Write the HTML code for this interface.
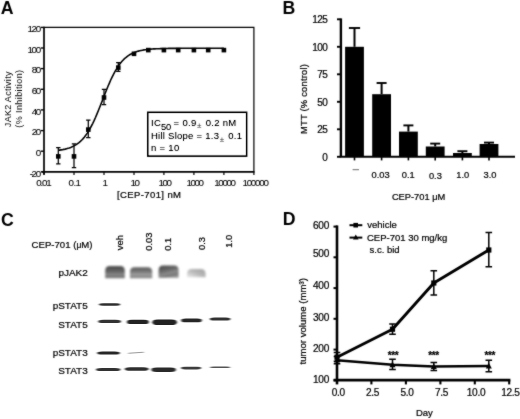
<!DOCTYPE html>
<html><head><meta charset="utf-8"><title>Figure</title>
<style>
html,body{margin:0;padding:0;background:#fff;}
body{width:520px;height:419px;overflow:hidden;}
svg{display:block;font-family:"Liberation Sans",sans-serif;}
text{fill:#111;stroke:#000;stroke-width:0.22px;}
.ns{stroke:none;}
.pl{font-weight:bold;font-size:17.7px;fill:#000;stroke:none;}
.at{font-size:9.6px;letter-spacing:-0.95px;fill:#000;}
.at2{font-size:9.8px;fill:#000;stroke-width:0.1px;}
.bt{font-size:10px;letter-spacing:-0.5px;fill:#000;}
.dt{font-size:10.1px;letter-spacing:-0.3px;fill:#000;}
</style></head><body>
<svg width="520" height="419" viewBox="0 0 520 419">
<defs>
<filter id="b1" x="-20%" y="-50%" width="140%" height="200%"><feGaussianBlur stdDeviation="1.1"/></filter>
<filter id="b2" x="-20%" y="-80%" width="140%" height="260%"><feGaussianBlur stdDeviation="0.8"/></filter>
<filter id="b3" x="-20%" y="-50%" width="140%" height="200%"><feGaussianBlur stdDeviation="1.6"/></filter>
<filter id="b4" x="-20%" y="-100%" width="140%" height="300%"><feGaussianBlur stdDeviation="0.85 0.75"/></filter>
<filter id="soft" color-interpolation-filters="sRGB" x="0" y="0" width="520" height="419" filterUnits="userSpaceOnUse"><feConvolveMatrix order="3" kernelMatrix="1 2 1 2 22 2 1 2 1" divisor="34" edgeMode="duplicate" preserveAlpha="false" result="bl"/><feComponentTransfer in="bl"><feFuncR type="linear" slope="1.25" intercept="-0.25"/><feFuncG type="linear" slope="1.25" intercept="-0.25"/><feFuncB type="linear" slope="1.25" intercept="-0.25"/></feComponentTransfer></filter>
</defs>
<rect width="520" height="419" fill="#fff"/>
<g filter="url(#soft)">

<text class="pl" x="0.8" y="14.0">A</text>
<text class="pl" x="282.5" y="13.7">B</text>
<text class="pl" x="1.1" y="226.0">C</text>
<text class="pl" x="282.8" y="224.8">D</text>
<path d="M44.0 27.3H253.9V171.8" fill="none" stroke="#000" stroke-width="1.2"/>
<path d="M44.0 26.7V174.8M41.6 171.8H254.5" fill="none" stroke="#000" stroke-width="1.7"/>
<path d="M40.8 171.8H44.0" stroke="#000" stroke-width="1.4"/>
<text class="at2" x="41.1" y="176.5" text-anchor="end" textLength="11.4" lengthAdjust="spacing">-20</text>
<path d="M40.8 151.2H44.0" stroke="#000" stroke-width="1.4"/>
<text class="at2" x="41.1" y="155.9" text-anchor="end">0</text>
<path d="M40.8 130.6H44.0" stroke="#000" stroke-width="1.4"/>
<text class="at2" x="41.1" y="135.3" text-anchor="end" textLength="9.3" lengthAdjust="spacing">20</text>
<path d="M40.8 109.9H44.0" stroke="#000" stroke-width="1.4"/>
<text class="at2" x="41.1" y="114.6" text-anchor="end" textLength="9.3" lengthAdjust="spacing">40</text>
<path d="M40.8 89.3H44.0" stroke="#000" stroke-width="1.4"/>
<text class="at2" x="41.1" y="94.0" text-anchor="end" textLength="9.3" lengthAdjust="spacing">60</text>
<path d="M40.8 68.6H44.0" stroke="#000" stroke-width="1.4"/>
<text class="at2" x="41.1" y="73.3" text-anchor="end" textLength="9.3" lengthAdjust="spacing">80</text>
<path d="M40.8 48.0H44.0" stroke="#000" stroke-width="1.4"/>
<text class="at2" x="41.1" y="52.7" text-anchor="end" textLength="13.5" lengthAdjust="spacing">100</text>
<path d="M40.8 27.4H44.0" stroke="#000" stroke-width="1.4"/>
<text class="at2" x="41.1" y="32.1" text-anchor="end" textLength="13.5" lengthAdjust="spacing">120</text>
<path d="M44.0 171.8V175.0" stroke="#000" stroke-width="1.2"/>
<text class="at2" x="36.2" y="185.8" textLength="15.5" lengthAdjust="spacing">0.01</text>
<path d="M74.0 171.8V175.0" stroke="#000" stroke-width="1.2"/>
<text class="at2" x="68.5" y="185.8" textLength="12.5" lengthAdjust="spacing">0.1</text>
<path d="M104.0 171.8V175.0" stroke="#000" stroke-width="1.2"/>
<text class="at2" x="102.5" y="185.8">1</text>
<path d="M134.0 171.8V175.0" stroke="#000" stroke-width="1.2"/>
<text class="at2" x="130.4" y="185.8" textLength="9.6" lengthAdjust="spacing">10</text>
<path d="M163.9 171.8V175.0" stroke="#000" stroke-width="1.2"/>
<text class="at2" x="158.4" y="185.8" textLength="13.6" lengthAdjust="spacing">100</text>
<path d="M193.9 171.8V175.0" stroke="#000" stroke-width="1.2"/>
<text class="at2" x="186.6" y="185.8" textLength="17.4" lengthAdjust="spacing">1000</text>
<path d="M223.9 171.8V175.0" stroke="#000" stroke-width="1.2"/>
<text class="at2" x="214.3" y="185.8" textLength="21.7" lengthAdjust="spacing">10000</text>
<path d="M253.9 171.8V175.0" stroke="#000" stroke-width="1.2"/>
<text class="at2" x="242.4" y="185.8" textLength="26.6" lengthAdjust="spacing">100000</text>
<text font-size="9.5" letter-spacing="0.4" x="149.2" y="198.0" text-anchor="middle" fill="#111">[CEP-701] nM</text>
<text class="ns" font-size="9" letter-spacing="0.3" fill="#2a2a2a" text-anchor="middle" transform="translate(10.6 99.2) rotate(-90)">JAK2 Activity</text>
<text class="ns" font-size="9" letter-spacing="0.4" fill="#2a2a2a" text-anchor="middle" transform="translate(21.5 98.6) rotate(-90)">(% Inhibition)</text>
<path d="M58.3 150.3 L59.7 150.1 L61.1 149.9 L62.4 149.7 L63.8 149.4 L65.2 149.1 L66.6 148.7 L68.0 148.3 L69.3 147.9 L70.7 147.4 L72.1 146.8 L73.5 146.1 L74.9 145.4 L76.2 144.6 L77.6 143.6 L79.0 142.6 L80.4 141.4 L81.8 140.0 L83.1 138.6 L84.5 136.9 L85.9 135.1 L87.3 133.1 L88.7 130.9 L90.0 128.6 L91.4 126.0 L92.8 123.3 L94.2 120.4 L95.6 117.3 L96.9 114.1 L98.3 110.7 L99.7 107.3 L101.1 103.8 L102.5 100.2 L103.8 96.7 L105.2 93.2 L106.6 89.7 L108.0 86.3 L109.4 83.1 L110.7 80.0 L112.1 77.1 L113.5 74.3 L114.9 71.7 L116.3 69.3 L117.6 67.1 L119.0 65.1 L120.4 63.2 L121.8 61.5 L123.2 60.0 L124.5 58.7 L125.9 57.5 L127.3 56.4 L128.7 55.4 L130.1 54.5 L131.5 53.8 L132.8 53.1 L134.2 52.5 L135.6 52.0 L137.0 51.5 L138.4 51.1 L139.7 50.8 L141.1 50.5 L142.5 50.2 L143.9 49.9 L145.3 49.7 L146.6 49.6 L148.0 49.4 L149.4 49.3 L150.8 49.1 L152.2 49.0 L153.5 48.9 L154.9 48.9 L156.3 48.8 L157.7 48.7 L159.1 48.7 L160.4 48.6 L161.8 48.6 L163.2 48.5 L164.6 48.5 L166.0 48.5 L167.3 48.5 L168.7 48.4 L170.1 48.4 L171.5 48.4 L172.9 48.4 L174.2 48.4 L175.6 48.4 L177.0 48.4 L178.4 48.4 L179.8 48.3 L181.1 48.3 L182.5 48.3 L183.9 48.3 L185.3 48.3 L186.7 48.3 L188.0 48.3 L189.4 48.3 L190.8 48.3 L192.2 48.3 L193.6 48.3 L194.9 48.3 L196.3 48.3 L197.7 48.3 L199.1 48.3 L200.5 48.3 L201.8 48.3 L203.2 48.3 L204.6 48.3 L206.0 48.3 L207.4 48.3 L208.7 48.3 L210.1 48.3 L211.5 48.3 L212.9 48.3 L214.3 48.3 L215.6 48.3 L217.0 48.3 L218.4 48.3 L219.8 48.3 L221.2 48.3 L222.5 48.3 L223.9 48.3" fill="none" stroke="#000" stroke-width="1.6"/>
<path d="M58.3 147.5V163.8M56.1 147.5h4.4M56.1 163.8h4.4" stroke="#000" stroke-width="1.25" fill="none"/>
<rect x="56.0" y="154.1" width="4.6" height="4.6" fill="#000"/>
<path d="M74.0 143.8V167.5M71.8 143.8h4.4M71.8 167.5h4.4" stroke="#000" stroke-width="1.25" fill="none"/>
<rect x="71.7" y="154.1" width="4.6" height="4.6" fill="#000"/>
<path d="M88.3 120V137.5M86.1 120h4.4M86.1 137.5h4.4" stroke="#000" stroke-width="1.25" fill="none"/>
<rect x="86.0" y="127.3" width="4.6" height="4.6" fill="#000"/>
<path d="M104.0 89.3V104.5M101.8 89.3h4.4M101.8 104.5h4.4" stroke="#000" stroke-width="1.25" fill="none"/>
<rect x="101.7" y="95.2" width="4.6" height="4.6" fill="#000"/>
<path d="M118.3 62.5V71.3M116.1 62.5h4.4M116.1 71.3h4.4" stroke="#000" stroke-width="1.25" fill="none"/>
<rect x="116.0" y="65.3" width="4.6" height="4.6" fill="#000"/>
<rect x="131.7" y="51.5" width="4.6" height="4.6" fill="#000"/>
<rect x="146.0" y="47.8" width="4.6" height="4.6" fill="#000"/>
<rect x="161.6" y="47.8" width="4.6" height="4.6" fill="#000"/>
<rect x="175.9" y="47.8" width="4.6" height="4.6" fill="#000"/>
<rect x="191.6" y="47.8" width="4.6" height="4.6" fill="#000"/>
<rect x="205.9" y="47.8" width="4.6" height="4.6" fill="#000"/>
<rect x="221.6" y="47.8" width="4.6" height="4.6" fill="#000"/>
<rect x="147.7" y="112.2" width="99" height="44" fill="#fff" stroke="#000" stroke-width="1.4"/>
<text class="ns" font-size="9.5" letter-spacing="0.3" x="151" y="125.6" fill="#111">IC<tspan dy="4.6" font-size="9.3" letter-spacing="-0.4">50</tspan><tspan dy="-4.6"> = 0.9</tspan><tspan fill="#555" dx="0.6" dy="2.2" font-size="8">±</tspan><tspan dy="-2.2" dx="1"> 0.2 nM</tspan></text>
<text class="ns" font-size="9.5" letter-spacing="0.25" x="151" y="139.4" fill="#111">Hill Slope = 1.3<tspan fill="#555" dx="0.6" dy="2.2" font-size="8">±</tspan><tspan dy="-2.2" dx="1"> 0.1</tspan></text>
<text class="ns" font-size="9.5" letter-spacing="0.3" x="151" y="151" fill="#111">n = 10</text>
<path d="M340.90000000000003 18.400000000000013V156.8" fill="none" stroke="#000" stroke-width="2.4"/><path d="M339.70000000000005 156.8H515" fill="none" stroke="#000" stroke-width="2"/>
<path d="M337.0 156.8H340.6" stroke="#000" stroke-width="1.9"/>
<text class="bt" x="327.40000000000003" y="160.6" text-anchor="end">0</text>
<path d="M337.0 129.3H340.6" stroke="#000" stroke-width="1.9"/>
<text class="bt" x="327.40000000000003" y="133.1" text-anchor="end">25</text>
<path d="M337.0 101.8H340.6" stroke="#000" stroke-width="1.9"/>
<text class="bt" x="327.40000000000003" y="105.6" text-anchor="end">50</text>
<path d="M337.0 74.3H340.6" stroke="#000" stroke-width="1.9"/>
<text class="bt" x="327.40000000000003" y="78.1" text-anchor="end">75</text>
<path d="M337.0 46.8H340.6" stroke="#000" stroke-width="1.9"/>
<text class="bt" x="327.40000000000003" y="50.6" text-anchor="end">100</text>
<path d="M337.0 19.3H340.6" stroke="#000" stroke-width="1.9"/>
<text class="bt" x="327.40000000000003" y="23.1" text-anchor="end">125</text>
<rect x="345.1" y="46.8" width="18.8" height="110.0" fill="#000"/>
<path d="M354.5 46.8V28.0" stroke="#000" stroke-width="2" fill="none"/><path d="M348.9 28.0h11.2" stroke="#000" stroke-width="1.9" fill="none"/>
<path d="M354.5 156.8v3.6" stroke="#000" stroke-width="1.6"/>
<rect x="372.2" y="94.2" width="18.8" height="62.6" fill="#000"/>
<path d="M381.6 94.2V83.0" stroke="#000" stroke-width="2" fill="none"/><path d="M376.6 83.0h10.0" stroke="#000" stroke-width="1.9" fill="none"/>
<path d="M381.6 156.8v3.6" stroke="#000" stroke-width="1.6"/>
<rect x="399.0" y="131.6" width="18.8" height="25.2" fill="#000"/>
<path d="M408.4 131.6V125.4" stroke="#000" stroke-width="2" fill="none"/><path d="M403.4 125.4h10.0" stroke="#000" stroke-width="1.9" fill="none"/>
<path d="M408.4 156.8v3.6" stroke="#000" stroke-width="1.6"/>
<rect x="425.8" y="146.5" width="18.8" height="10.3" fill="#000"/>
<path d="M435.2 146.5V143.6" stroke="#000" stroke-width="2" fill="none"/><path d="M430.2 143.6h10.0" stroke="#000" stroke-width="1.9" fill="none"/>
<path d="M435.2 156.8v3.6" stroke="#000" stroke-width="1.6"/>
<rect x="453.0" y="153.0" width="18.8" height="3.8" fill="#000"/>
<path d="M462.4 153.0V151.2" stroke="#000" stroke-width="2" fill="none"/><path d="M457.4 151.2h10.0" stroke="#000" stroke-width="1.9" fill="none"/>
<path d="M462.4 156.8v3.6" stroke="#000" stroke-width="1.6"/>
<rect x="479.6" y="144.0" width="18.8" height="12.8" fill="#000"/>
<path d="M489.0 144.0V142.6" stroke="#000" stroke-width="2" fill="none"/><path d="M484.0 142.6h10.0" stroke="#000" stroke-width="1.9" fill="none"/>
<path d="M489.0 156.8v3.6" stroke="#000" stroke-width="1.6"/>
<path d="M352.6 169.7h6.4" stroke="#8a8a8a" stroke-width="1.0"/>
<text font-size="9.3" fill="#000" x="380.6" y="177.9" text-anchor="middle">0.03</text>
<text font-size="9.3" fill="#000" x="408.2" y="177.9" text-anchor="middle">0.1</text>
<text font-size="9.3" fill="#000" x="435.4" y="179.1" text-anchor="middle">0.3</text>
<text font-size="9.3" fill="#000" x="462.8" y="177.9" text-anchor="middle">1.0</text>
<text font-size="9.3" fill="#000" x="490.0" y="177.9" text-anchor="middle">3.0</text>
<text font-size="9.3" x="418.6" y="199.8" text-anchor="middle" fill="#000">CEP-701 μM</text>
<text font-size="9.3" letter-spacing="0.25" fill="#111" text-anchor="middle" transform="translate(307.1 98.9) rotate(-90)">MTT (% control)</text>
<text font-size="9.6" x="31.6" y="248.4" fill="#000" stroke="#000" stroke-width="0.18">CEP-701 (<tspan font-size="8.6">μ</tspan>M)</text>
<text font-size="9.4" fill="#111" transform="translate(123.4 250.2) rotate(-90)">veh</text>
<text font-size="9.4" fill="#111" transform="translate(151.9 250.8) rotate(-90)">0.03</text>
<text font-size="9.4" fill="#111" transform="translate(171.2 250.8) rotate(-90)">0.1</text>
<text font-size="9.4" fill="#111" transform="translate(205.1 250.0) rotate(-90)">0.3</text>
<text font-size="9.4" fill="#111" transform="translate(231.9 247.8) rotate(-90)">1.0</text>
<text font-size="9.95" x="87.7" y="275.9" text-anchor="end" fill="#000" stroke="#000" stroke-width="0.18">pJAK2</text>
<text font-size="9.95" x="87.7" y="308.6" text-anchor="end" fill="#000" stroke="#000" stroke-width="0.18">pSTAT5</text>
<text font-size="9.95" x="87.7" y="328.2" text-anchor="end" fill="#000" stroke="#000" stroke-width="0.18">STAT5</text>
<text font-size="9.95" x="87.7" y="355.8" text-anchor="end" fill="#000" stroke="#000" stroke-width="0.18">pSTAT3</text>
<text font-size="9.95" x="87.7" y="374.4" text-anchor="end" fill="#000" stroke="#000" stroke-width="0.18">STAT3</text>
<path d="M337.0 225.4V384.4" fill="none" stroke="#000" stroke-width="2.6"/><path d="M333.6 380.2H510.4" fill="none" stroke="#000" stroke-width="2.7"/>
<path d="M333.5 380.3H337.0" stroke="#000" stroke-width="2"/>
<text class="dt" x="329.0" y="383.2" text-anchor="end">100</text>
<path d="M333.5 349.6H337.0" stroke="#000" stroke-width="2"/>
<text class="dt" x="329.0" y="351.9" text-anchor="end">200</text>
<path d="M333.5 318.8H337.0" stroke="#000" stroke-width="2"/>
<text class="dt" x="329.0" y="321.2" text-anchor="end">300</text>
<path d="M333.5 288.1H337.0" stroke="#000" stroke-width="2"/>
<text class="dt" x="329.0" y="288.9" text-anchor="end">400</text>
<path d="M333.5 257.3H337.0" stroke="#000" stroke-width="2"/>
<text class="dt" x="329.0" y="257.4" text-anchor="end">500</text>
<path d="M333.5 226.6H337.0" stroke="#000" stroke-width="2"/>
<text class="dt" x="329.0" y="228.8" text-anchor="end">600</text>
<text class="dt" x="338.2" y="396.2" text-anchor="middle">0.0</text>
<path d="M371.4 380.2v4.2" stroke="#000" stroke-width="2.1"/>
<text class="dt" x="372.6" y="396.2" text-anchor="middle">2.5</text>
<path d="M405.9 380.2v4.2" stroke="#000" stroke-width="2.1"/>
<text class="dt" x="407.1" y="396.2" text-anchor="middle">5.0</text>
<path d="M440.4 380.2v4.2" stroke="#000" stroke-width="2.1"/>
<text class="dt" x="441.6" y="396.2" text-anchor="middle">7.5</text>
<path d="M474.8 380.2v4.2" stroke="#000" stroke-width="2.1"/>
<text class="dt" x="476.0" y="396.2" text-anchor="middle">10.0</text>
<path d="M509.2 380.2v4.2" stroke="#000" stroke-width="2.1"/>
<text class="dt" x="510.4" y="396.2" text-anchor="middle">12.5</text>
<text font-size="9.5" x="424.4" y="416.4" text-anchor="middle" fill="#000">Day</text>
<text font-size="9.6" fill="#111" text-anchor="middle" transform="translate(306.4 321.3) rotate(-90)">tumor volume (mm³)</text>
<path d="M337.0 357.2 L392.5 329.2 L433.8 283.0 L488.8 250.0" fill="none" stroke="#000" stroke-width="2.9" stroke-linejoin="round"/>
<path d="M337.0 360.2 L392.5 364.8 L433.8 366.6 L488.8 366.0" fill="none" stroke="#000" stroke-width="2.5" stroke-linejoin="round"/>
<path d="M337.0 352.6V361.2M333.7 352.6h6.6M333.7 361.2h6.6" stroke="#000" stroke-width="1.5" fill="none"/>
<rect x="334.4" y="354.6" width="5.2" height="5.2" fill="#000"/>
<path d="M392.5 323.9V334.2M389.2 323.9h6.6M389.2 334.2h6.6" stroke="#000" stroke-width="1.5" fill="none"/>
<rect x="389.9" y="326.6" width="5.2" height="5.2" fill="#000"/>
<path d="M433.8 270.8V295.0M430.5 270.8h6.6M430.5 295.0h6.6" stroke="#000" stroke-width="1.5" fill="none"/>
<rect x="431.2" y="280.4" width="5.2" height="5.2" fill="#000"/>
<path d="M488.8 232.5V266.8M485.5 232.5h6.6M485.5 266.8h6.6" stroke="#000" stroke-width="1.5" fill="none"/>
<rect x="486.2" y="247.4" width="5.2" height="5.2" fill="#000"/>
<path d="M337.0 356.6V363.8M333.7 356.6h6.6M333.7 363.8h6.6" stroke="#000" stroke-width="1.5" fill="none"/>
<path d="M337.0 357.0l3 5.6h-6z" fill="#000"/>
<path d="M392.5 359.3V369.6M389.2 359.3h6.6M389.2 369.6h6.6" stroke="#000" stroke-width="1.5" fill="none"/>
<path d="M392.5 361.6l3 5.6h-6z" fill="#000"/>
<path d="M433.8 362.6V370.4M430.5 362.6h6.6M430.5 370.4h6.6" stroke="#000" stroke-width="1.5" fill="none"/>
<path d="M433.8 363.4l3 5.6h-6z" fill="#000"/>
<path d="M488.8 360.2V371.8M485.5 360.2h6.6M485.5 371.8h6.6" stroke="#000" stroke-width="1.5" fill="none"/>
<path d="M488.8 362.8l3 5.6h-6z" fill="#000"/>
<text font-size="10" font-weight="bold" x="393.0" y="358.9" text-anchor="middle" fill="#111" letter-spacing="-0.4">***</text>
<text font-size="10" font-weight="bold" x="433.4" y="358.9" text-anchor="middle" fill="#111" letter-spacing="-0.4">***</text>
<text font-size="10" font-weight="bold" x="489.8" y="358.9" text-anchor="middle" fill="#111" letter-spacing="-0.4">***</text>
<path d="M349.5 225.2h12.8" stroke="#000" stroke-width="2"/><rect x="353.4" y="222.9" width="4.6" height="4.6" fill="#000"/>
<path d="M349.5 237.6h12.8" stroke="#000" stroke-width="2"/><path d="M355.8 234.6l2.8 5h-5.6z" fill="#000"/>
<text font-size="9.5" x="367.3" y="228.3" fill="#111">vehicle</text>
<text font-size="9.5" x="367" y="240.8" fill="#111">CEP-701 30 mg/kg</text>
<text font-size="9.5" x="369.5" y="252.6" fill="#111">s.c. bid</text>
</g>
<defs>
<linearGradient id="g1" x1="0" y1="0" x2="0" y2="1"><stop offset="0" stop-color="#4c4c4c"/><stop offset="0.45" stop-color="#646464"/><stop offset="0.72" stop-color="#8c8c8c"/><stop offset="0.9" stop-color="#6c6c6c"/><stop offset="1" stop-color="#8a8a8a"/></linearGradient>
<linearGradient id="g2" x1="0" y1="0" x2="0" y2="1"><stop offset="0" stop-color="#5c5c5c"/><stop offset="0.4" stop-color="#787878"/><stop offset="0.72" stop-color="#a4a4a4"/><stop offset="0.9" stop-color="#7a7a7a"/><stop offset="1" stop-color="#999"/></linearGradient>
<linearGradient id="g3" x1="0" y1="0" x2="0.4" y2="1"><stop offset="0" stop-color="#484848"/><stop offset="0.45" stop-color="#686868"/><stop offset="0.75" stop-color="#8e8e8e"/><stop offset="0.9" stop-color="#707070"/><stop offset="1" stop-color="#909090"/></linearGradient>
<linearGradient id="g4" x1="1" y1="0" x2="0" y2="1"><stop offset="0" stop-color="#a2a2a2"/><stop offset="0.5" stop-color="#b8b8b8"/><stop offset="1" stop-color="#ececec"/></linearGradient>
</defs>
<path d="M105.2 278.2L105.2 270.5Q105.2 266.0 109.7 266.0L120.3 266.0Q124.8 266.0 124.8 270.5L124.8 278.2Z" fill="url(#g1)" filter="url(#b2)"/>
<path d="M130.0 278.2L130.0 271.7Q130.0 267.2 134.5 267.2L147.7 267.2Q152.2 267.2 152.2 271.7L152.2 278.2Z" fill="url(#g2)" filter="url(#b2)"/>
<path d="M158.6 277.8L158.6 270.1Q158.6 265.6 163.1 265.6L174.1 265.6Q178.6 265.6 178.6 270.1L178.6 277.8Z" fill="url(#g3)" filter="url(#b2)"/>
<path d="M187.0 277.2L187.0 274.0Q187.0 269.0 192.0 269.0L200.6 269.0Q205.6 269.0 205.6 274.0L205.6 277.2Z" fill="url(#g4)" filter="url(#b1)"/>
<rect x="99" y="303.30" width="21.2" height="2.4" rx="4.2" ry="1.2" fill="#2e2e2e" opacity="1" filter="url(#b4)"/>
<rect x="98.2" y="319.80" width="22.8" height="3.2" rx="4.6" ry="1.6" fill="#333" opacity="1" filter="url(#b4)"/>
<rect x="127" y="319.70" width="21.8" height="4.4" rx="4.4" ry="2.2" fill="#222" opacity="1" filter="url(#b4)"/>
<rect x="152.4" y="319.40" width="24.4" height="5.6" rx="4.9" ry="2.8" fill="#222" opacity="1" filter="url(#b4)"/>
<rect x="181.2" y="318.50" width="20.6" height="3.8" rx="4.1" ry="1.9" fill="#282828" opacity="1" filter="url(#b4)"/>
<rect x="209.8" y="317.45" width="20.6" height="3.1" rx="4.1" ry="1.55" fill="#333" opacity="1" filter="url(#b4)"/>
<rect x="97.2" y="351.60" width="22.6" height="3.0" rx="4.5" ry="1.5" fill="#262626" opacity="1" filter="url(#b4)"/>
<path d="M128.6 353.2L143.4 352.3" stroke="#9a9a9a" stroke-width="1.1" stroke-linecap="round" filter="url(#b4)"/>
<rect x="96.0" y="368.00" width="24.4" height="3.0" rx="4.9" ry="1.5" fill="#333" opacity="1" filter="url(#b4)"/>
<rect x="124.8" y="367.20" width="23.8" height="3.6" rx="4.8" ry="1.8" fill="#2e2e2e" opacity="1" filter="url(#b4)"/>
<rect x="151.4" y="367.60" width="24.4" height="4.4" rx="4.9" ry="2.2" fill="#2c2c2c" opacity="1" filter="url(#b4)"/>
<rect x="181" y="366.70" width="20.2" height="2.8" rx="4.0" ry="1.4" fill="#3c3c3c" opacity="1" filter="url(#b4)"/>
<rect x="209.8" y="366.55" width="20.6" height="1.5" rx="4.1" ry="0.75" fill="#555" opacity="1" filter="url(#b4)"/>
</svg></body></html>
